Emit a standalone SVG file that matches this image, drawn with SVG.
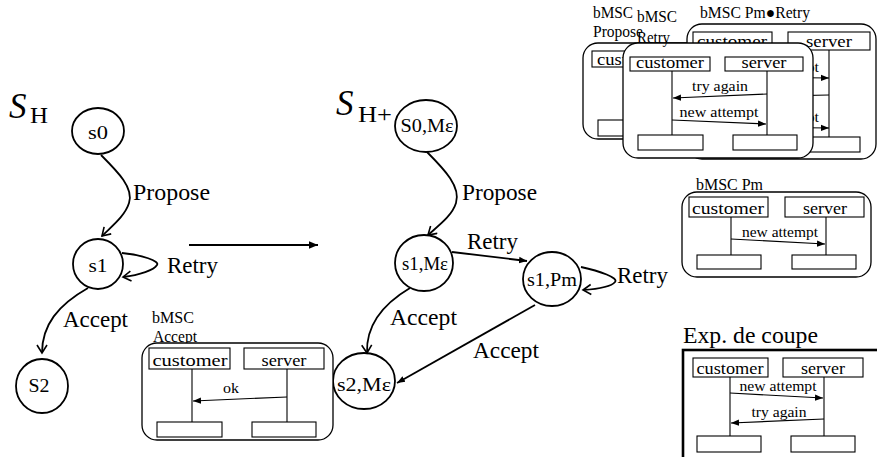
<svg xmlns="http://www.w3.org/2000/svg" width="877" height="457" viewBox="0 0 877 457">
<defs>
<marker id="open" markerUnits="userSpaceOnUse" markerWidth="12" markerHeight="12" refX="10" refY="6" orient="auto">
<path d="M2,1 L10,6 L2,11" fill="none" stroke="#000" stroke-width="1.6"/>
</marker>
<marker id="fill" markerUnits="userSpaceOnUse" markerWidth="9" markerHeight="8" refX="8" refY="4" orient="auto">
<path d="M0,0.8 L8,4 L0,7.2 Z" fill="#000"/>
</marker>
<marker id="fillbig" markerUnits="userSpaceOnUse" markerWidth="10" markerHeight="9" refX="9" refY="4.5" orient="auto">
<path d="M0,0.8 L9,4.5 L0,8.2 Z" fill="#000"/>
</marker>
<style>
text{font-family:"Liberation Serif","Times New Roman",serif;fill:#000}
.st{fill:#fff;stroke:#000;stroke-width:1.8}
.e{fill:none;stroke:#000;stroke-width:1.8;marker-end:url(#open)}
.ef{fill:none;stroke:#000;stroke-width:1.8;marker-end:url(#fill)}
.frame{fill:#fff;stroke:#000;stroke-width:1.3}
.box{fill:#fff;stroke:#000;stroke-width:1.1}
.ll{stroke:#000;stroke-width:1.1}
.msg{stroke:#000;stroke-width:1.1;marker-end:url(#fill)}
.lbl{font-size:24px}
.node{font-size:19.5px;text-anchor:middle}
.obj{font-size:17.5px;text-anchor:middle}
.m{font-size:15.5px;text-anchor:middle}
.t{font-size:16px}
.big{font-size:35px;font-style:italic}
.sub{font-size:23px}
</style>
</defs>

<!-- Titles -->
<g id="title-SH">
<text class="big" x="9" y="118">S</text>
<text class="sub" x="30" y="123" textLength="18" lengthAdjust="spacingAndGlyphs">H</text>
</g>
<g id="title-SHplus">
<text class="big" x="336" y="115">S</text>
<text class="sub" x="358" y="122" textLength="34" lengthAdjust="spacingAndGlyphs">H+</text>
</g>

<!-- Left graph nodes -->
<g id="s0">
<ellipse class="st" cx="98" cy="131" rx="26" ry="23"/>
<text class="node" x="98" y="139" textLength="20" lengthAdjust="spacingAndGlyphs">s0</text>
</g>
<g id="s1">
<ellipse class="st" cx="98" cy="264" rx="25" ry="25"/>
<text class="node" x="98" y="272" textLength="19" lengthAdjust="spacingAndGlyphs">s1</text>
</g>
<g id="s2">
<ellipse class="st" cx="42" cy="386" rx="26" ry="27"/>
<text class="node" x="39" y="392" textLength="21" lengthAdjust="spacingAndGlyphs">S2</text>
</g>

<!-- Middle graph nodes -->
<g id="s0Me">
<ellipse class="st" cx="426" cy="126" rx="31" ry="26"/>
<text class="node" x="427" y="132" textLength="53" lengthAdjust="spacingAndGlyphs">S0,Mε</text>
</g>
<g id="s1Me">
<ellipse class="st" cx="424" cy="263" rx="29" ry="28"/>
<text class="node" x="425" y="270" textLength="46" lengthAdjust="spacingAndGlyphs">s1,Mε</text>
</g>
<g id="s1Pm">
<ellipse class="st" cx="552" cy="279" rx="29" ry="27"/>
<text class="node" x="552" y="286" textLength="50" lengthAdjust="spacingAndGlyphs">s1,Pm</text>
</g>
<g id="s2Me">
<ellipse class="st" cx="364" cy="381" rx="31" ry="28"/>
<text class="node" x="364" y="391" textLength="54" lengthAdjust="spacingAndGlyphs">s2,Mε</text>
</g>

<!-- Connectors -->
<g id="connectors">
<path class="e" d="M101,155 C118,172 134,188 129,203 C125,216 112,226 102,236"/>
<path class="e" d="M122,253 C142,255 160,261 157,265 C154,270 140,275 123,277"/>
<path class="e" d="M88,288 C58,305 42,325 42,353"/>
<path class="e" d="M427,152 C445,170 461,187 456,203 C452,216 438,226 428,235"/>
<path class="ef" d="M452,252 L527,261"/>
<path class="e" d="M581,267 C600,271 619,278 615,282 C611,287 598,289 583,290"/>
<path class="e" d="M410,288 C383,304 366,325 367,353"/>
<path class="ef" d="M535,305 L397,383"/>
<line x1="189" y1="245" x2="318" y2="245" stroke="#000" stroke-width="2" marker-end="url(#fillbig)"/>
</g>

<!-- Edge labels -->
<g id="edge-labels">
<text class="lbl" x="133" y="200" textLength="77" lengthAdjust="spacingAndGlyphs">Propose</text>
<text class="lbl" x="167" y="273" textLength="51" lengthAdjust="spacingAndGlyphs">Retry</text>
<text class="lbl" x="63" y="327" textLength="65" lengthAdjust="spacingAndGlyphs">Accept</text>
<text class="lbl" x="462" y="200" textLength="75" lengthAdjust="spacingAndGlyphs">Propose</text>
<text class="lbl" x="467" y="249" textLength="51" lengthAdjust="spacingAndGlyphs">Retry</text>
<text class="lbl" x="617" y="283" textLength="51" lengthAdjust="spacingAndGlyphs">Retry</text>
<text class="lbl" x="390" y="325" textLength="67" lengthAdjust="spacingAndGlyphs">Accept</text>
<text class="lbl" x="473" y="358" textLength="66" lengthAdjust="spacingAndGlyphs">Accept</text>
</g>

<!-- bMSC Accept -->
<g id="bmsc-accept">
<text class="t" x="152" y="323" textLength="42" lengthAdjust="spacingAndGlyphs">bMSC</text>
<text class="t" x="153" y="342" textLength="44" lengthAdjust="spacingAndGlyphs">Accept</text>
<rect class="frame" x="142" y="343" width="191" height="97" rx="15"/>
<rect class="box" x="149" y="348" width="81" height="21"/>
<text class="obj" x="190" y="366" textLength="75" lengthAdjust="spacingAndGlyphs">customer</text>
<rect class="box" x="244" y="348" width="80" height="21"/>
<text class="obj" x="284" y="366" textLength="45" lengthAdjust="spacingAndGlyphs">server</text>
<line class="ll" x1="192" y1="369" x2="192" y2="422"/>
<line class="ll" x1="287" y1="369" x2="287" y2="422"/>
<rect class="box" x="157" y="422" width="65" height="15"/>
<rect class="box" x="252" y="422" width="64" height="15"/>
<line class="msg" x1="287" y1="397" x2="193" y2="401"/>
<text class="m" x="231" y="393" textLength="16" lengthAdjust="spacingAndGlyphs">ok</text>
</g>

<!-- bMSC Propose (back) -->
<g id="bmsc-propose">
<rect class="frame" x="583" y="43" width="190" height="96" rx="15"/>
<rect class="box" x="592" y="51" width="79" height="16"/>
<text class="obj" x="631" y="65" textLength="68" lengthAdjust="spacingAndGlyphs">customer</text>
<rect class="box" x="598" y="120" width="64" height="16"/>
</g>

<!-- bMSC Pm.Retry (middle) -->
<g id="bmsc-pm-retry">
<rect class="frame" x="687" y="24" width="189" height="135" rx="15"/>
<rect class="box" x="693" y="32" width="79" height="18"/>
<text class="obj" x="732" y="47" textLength="70" lengthAdjust="spacingAndGlyphs">customer</text>
<rect class="box" x="788" y="32" width="82" height="18"/>
<text class="obj" x="829" y="47" textLength="46" lengthAdjust="spacingAndGlyphs">server</text>
<line class="ll" x1="732" y1="50" x2="732" y2="137"/>
<line class="ll" x1="829" y1="50" x2="829" y2="137"/>
<rect class="box" x="700" y="137" width="64" height="15"/>
<rect class="box" x="796" y="137" width="64" height="15"/>
<line class="msg" x1="732" y1="77" x2="829" y2="78"/>
<text class="m" x="780" y="72" textLength="78" lengthAdjust="spacingAndGlyphs">new attempt</text>
<line class="msg" x1="829" y1="95" x2="733" y2="97"/>
<line class="msg" x1="732" y1="127" x2="829" y2="128"/>
<text class="m" x="780" y="122" textLength="78" lengthAdjust="spacingAndGlyphs">new attempt</text>
</g>

<!-- bMSC Retry (front) -->
<g id="bmsc-retry">
<rect class="frame" x="623" y="43" width="190" height="115" rx="15"/>
<rect class="box" x="630" y="57" width="80" height="14"/>
<text class="obj" x="670" y="68" textLength="68" lengthAdjust="spacingAndGlyphs">customer</text>
<rect class="box" x="725" y="57" width="78" height="14"/>
<text class="obj" x="764" y="68" textLength="45" lengthAdjust="spacingAndGlyphs">server</text>
<line class="ll" x1="672" y1="71" x2="672" y2="135"/>
<line class="ll" x1="767" y1="71" x2="767" y2="135"/>
<rect class="box" x="638" y="135" width="65" height="15"/>
<rect class="box" x="733" y="135" width="64" height="15"/>
<line class="msg" x1="767" y1="94" x2="673" y2="98"/>
<text class="m" x="720" y="91" textLength="56" lengthAdjust="spacingAndGlyphs">try again</text>
<line class="msg" x1="672" y1="120" x2="766" y2="124"/>
<text class="m" x="719" y="117" textLength="79" lengthAdjust="spacingAndGlyphs">new attempt</text>
</g>

<!-- top-right labels -->
<g id="top-labels">
<text class="t" x="593" y="18" font-size="15.5" textLength="40" lengthAdjust="spacingAndGlyphs">bMSC</text>
<text class="t" x="593" y="37" font-size="15.5" textLength="50" lengthAdjust="spacingAndGlyphs">Propose</text>
<text class="t" x="700" y="18" font-size="15.5" textLength="110" lengthAdjust="spacingAndGlyphs">bMSC Pm●Retry</text>
<text class="t" x="637" y="22" font-size="15.5" textLength="40" lengthAdjust="spacingAndGlyphs">bMSC</text>
<text class="t" x="637" y="43" font-size="15.5" textLength="33" lengthAdjust="spacingAndGlyphs">Retry</text>
</g>

<!-- bMSC Pm -->
<g id="bmsc-pm">
<text class="t" x="696" y="190" textLength="67" lengthAdjust="spacingAndGlyphs">bMSC Pm</text>
<rect class="frame" x="682" y="192" width="189" height="85" rx="15"/>
<rect class="box" x="689" y="197" width="79" height="20"/>
<text class="obj" x="728" y="214" textLength="72" lengthAdjust="spacingAndGlyphs">customer</text>
<rect class="box" x="785" y="197" width="79" height="20"/>
<text class="obj" x="825" y="214" textLength="44" lengthAdjust="spacingAndGlyphs">server</text>
<line class="ll" x1="731" y1="217" x2="731" y2="255"/>
<line class="ll" x1="826" y1="217" x2="826" y2="255"/>
<rect class="box" x="697" y="255" width="64" height="14"/>
<rect class="box" x="792" y="255" width="64" height="14"/>
<line class="msg" x1="731" y1="239" x2="825" y2="244"/>
<text class="m" x="780" y="237" textLength="76" lengthAdjust="spacingAndGlyphs">new attempt</text>
</g>

<!-- Exp. de coupe -->
<g id="exp-de-coupe">
<text x="683" y="343" font-size="23.5" textLength="135" lengthAdjust="spacingAndGlyphs">Exp. de coupe</text>
<rect x="683" y="350" width="300" height="200" fill="#fff" stroke="#000" stroke-width="2.6"/>
<rect class="box" x="693" y="358" width="75" height="19"/>
<text class="obj" x="730" y="374" textLength="67" lengthAdjust="spacingAndGlyphs">customer</text>
<rect class="box" x="783" y="358" width="80" height="19"/>
<text class="obj" x="823" y="374" textLength="44" lengthAdjust="spacingAndGlyphs">server</text>
<line class="ll" x1="730" y1="377" x2="730" y2="436"/>
<line class="ll" x1="824" y1="377" x2="824" y2="436"/>
<rect class="box" x="697" y="436" width="64" height="16"/>
<rect class="box" x="791" y="436" width="64" height="16"/>
<line class="msg" x1="730" y1="393" x2="823" y2="398"/>
<text class="m" x="778" y="391" textLength="77" lengthAdjust="spacingAndGlyphs">new attempt</text>
<line class="msg" x1="824" y1="419" x2="731" y2="423"/>
<text class="m" x="779" y="417" textLength="55" lengthAdjust="spacingAndGlyphs">try again</text>
</g>
</svg>
